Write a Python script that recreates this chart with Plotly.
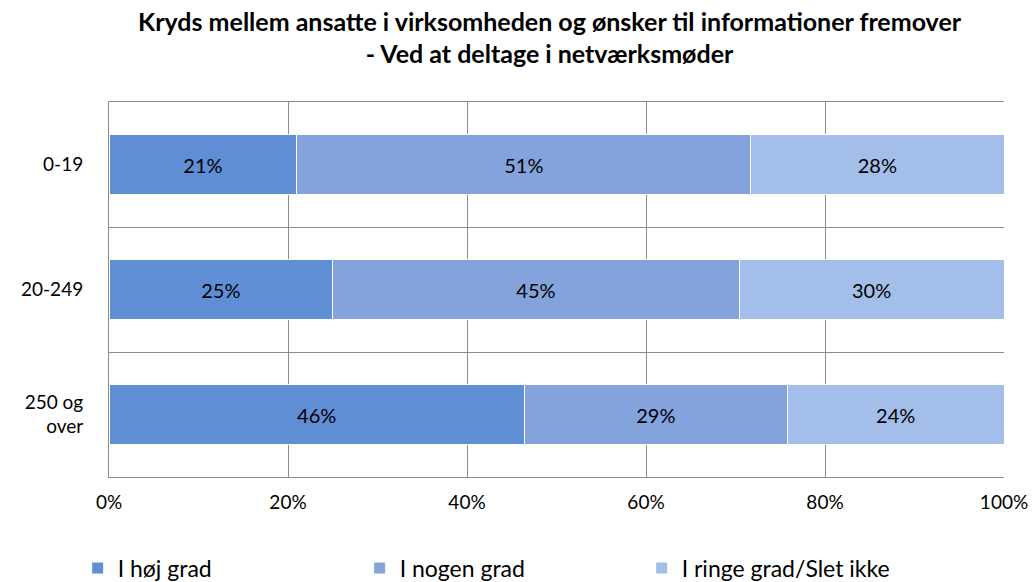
import plotly.graph_objects as go

categories = ["0-19", "20-249", "250 og<br>over"]
series_names = ["I høj grad", "I nogen grad", "I ringe grad/Slet ikke"]
hoej = [21.0, 25.0, 46.4]
nogen = [50.7, 45.4, 29.4]
ringe = [28.3, 29.6, 24.2]
colors = ["#5f8ed4", "#84a2db", "#a3bfe9"]
tick_vals = [0, 20, 40, 60, 80, 100]
tick_text = ["0%", "20%", "40%", "60%", "80%", "100%"]

FONT = "Lato, 'Open Sans', sans-serif"

fig = go.Figure()
for name, vals, col in zip(series_names, [hoej, nogen, ringe], colors):
    fig.add_trace(go.Bar(
        y=categories, x=vals, name=name, orientation="h",
        marker=dict(color=col, line=dict(color="white", width=1)),
        text=vals, texttemplate="%{x:.0f}%", textposition="inside",
        insidetextanchor="middle",
        textfont=dict(color="black", size=20, family=FONT),
        width=0.48,
    ))

fig.update_layout(
    barmode="stack",
    width=1035, height=582,
    paper_bgcolor="white", plot_bgcolor="white",
    margin=dict(l=109, r=31, t=102, b=105, autoexpand=False),
    title=dict(
        text="<b>Kryds mellem ansatte i virksomheden og ønsker til informationer fremover<br>- Ved at deltage i netværksmøder</b>",
        x=0.531, xanchor="center", y=0.947, yanchor="top", yref="container",
        font=dict(size=25, family=FONT, color="black"),
    ),
    font=dict(family=FONT, color="black"),
    legend=dict(
        orientation="h", x=-0.035, xanchor="left", y=-0.243, yanchor="middle",
        font=dict(size=23, family=FONT, color="black"),
        entrywidth=237, entrywidthmode="pixels",
        traceorder="normal",
    ),
    uniformtext=dict(mode="show", minsize=10),
)
fig.update_xaxes(
    range=[0, 100], tickvals=tick_vals, ticktext=tick_text,
    showgrid=True, gridcolor="#8c8c8c", gridwidth=1,
    zeroline=False, showline=True, linecolor="#8c8c8c", linewidth=1, mirror=True,
    tickfont=dict(size=19, family=FONT, color="black"),
    ticks="", automargin=False, ticklabelstandoff=8,
)
fig.update_yaxes(
    autorange="reversed", type="category",
    tickson="boundaries", showgrid=True, gridcolor="#8c8c8c", gridwidth=1,
    showline=True, linecolor="#8c8c8c", linewidth=1, mirror=False,
    tickfont=dict(size=19, family=FONT, color="black"),
    ticks="", ticklabelstandoff=21, automargin=False,
)

fig.write_html("out.html", config={"displayModeBar": False},
               post_script="document.body.style.margin='0';")
